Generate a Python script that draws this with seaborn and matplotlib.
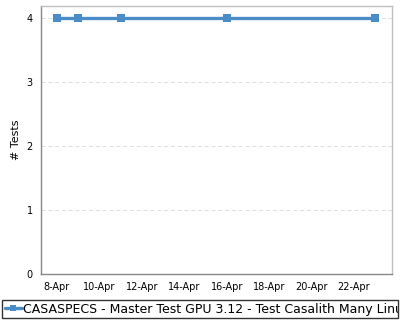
import matplotlib
matplotlib.use("Agg")
import matplotlib.pyplot as plt
import matplotlib.dates as mdates
from matplotlib.transforms import Bbox, TransformedBbox
from matplotlib.lines import Line2D
import seaborn as sns
import pandas as pd

dates = ["2024-04-08", "2024-04-09", "2024-04-11", "2024-04-16", "2024-04-23"]
tests = [4, 4, 4, 4, 4]
series_name = "CASASPECS - Master Test GPU 3.12 - Test Casalith Many Linux"
tick_dates = ["2024-04-08", "2024-04-10", "2024-04-12", "2024-04-14",
              "2024-04-16", "2024-04-18", "2024-04-20", "2024-04-22"]
y_ticks = [0, 1, 2, 3, 4]

df = pd.DataFrame({"date": pd.to_datetime(dates), "tests": tests})

sns.set_style("white")
plt.rcParams["font.family"] = ["DejaVu Sans"]
plt.rcParams["text.color"] = "black"
plt.rcParams["axes.labelcolor"] = "black"
plt.rcParams["xtick.color"] = "black"
plt.rcParams["ytick.color"] = "black"

color = "#4a8cc8"
fig = plt.figure(figsize=(4, 3.2), dpi=100)
ax = fig.add_axes([0.1025, 0.14375, 0.8775, 0.8375])

sns.lineplot(data=df, x="date", y="tests", ax=ax, color=color, marker="s",
             markersize=5.5, markeredgewidth=0, linewidth=2.4)

ax.set_ylim(0, 4.19)
ax.set_xlim(pd.Timestamp("2024-04-07 06:00"), pd.Timestamp("2024-04-23 19:00"))
ax.set_yticks(y_ticks)
ax.set_xticks(pd.to_datetime(tick_dates))
ax.xaxis.set_major_formatter(mdates.DateFormatter("%-d-%b"))
ax.set_xlabel("")
ax.set_ylabel("# Tests", fontsize=8, color="black")
ax.tick_params(axis="both", labelsize=7, length=3, width=0.8, color="#888888",
               labelcolor="black", pad=3)
ax.yaxis.grid(True, linestyle=(0, (4, 3)), color="#dddddd", linewidth=0.7)
ax.xaxis.grid(False)
for side in ["left", "bottom"]:
    ax.spines[side].set_color("#888888")
    ax.spines[side].set_linewidth(1.0)
for side in ["top", "right"]:
    ax.spines[side].set_color("#c0c0c0")
    ax.spines[side].set_linewidth(1.0)
if ax.get_legend():
    ax.get_legend().remove()

handle = Line2D([], [], color=color, marker="s", markersize=5, markeredgewidth=0, linewidth=2.4)
leg = fig.legend([handle], [series_name], loc="lower left",
                 bbox_to_anchor=(0.005, 0.006, 0.99, 0.072), mode="expand",
                 fontsize=9, frameon=True, fancybox=False, borderpad=0.2,
                 handlelength=1.4, handletextpad=0.05, borderaxespad=0,
                 labelcolor="black")
leg.get_frame().set_edgecolor("black")
leg.get_frame().set_linewidth(1.0)
clip = TransformedBbox(Bbox([[0.005, 0.0], [0.995, 0.1]]), fig.transFigure)
for t in leg.get_texts():
    t.set_clip_box(clip)
    t.set_clip_on(True)

fig.savefig("out.png", dpi=100)
